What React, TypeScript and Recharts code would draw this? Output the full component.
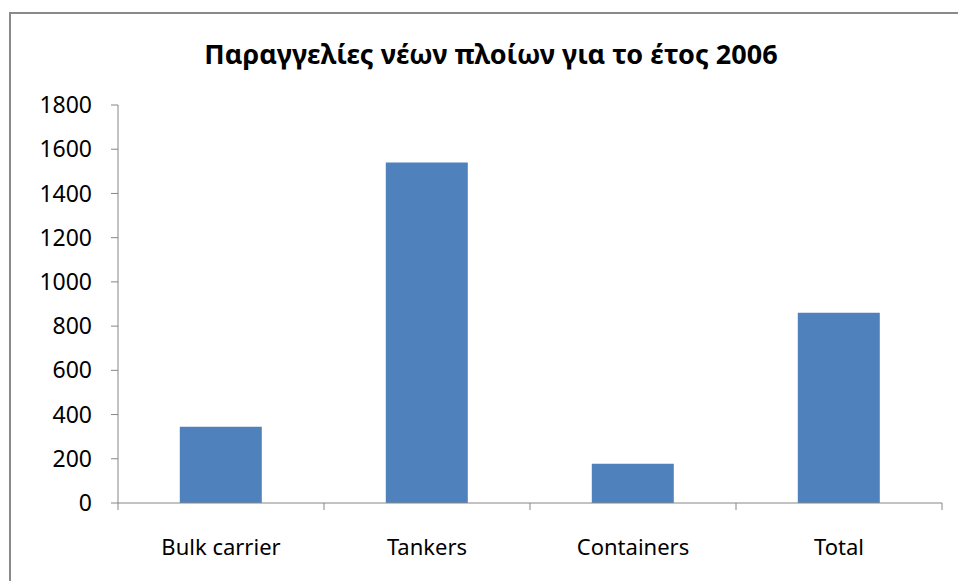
import { BarChart, Bar, XAxis, YAxis } from 'recharts';

const categories = ['Bulk carrier', 'Tankers', 'Containers', 'Total'];
const orders = [345, 1540, 177, 860];
const yTicks = [0, 200, 400, 600, 800, 1000, 1200, 1400, 1600, 1800];

const chartData = categories.map((name, i) => ({ name, orders: orders[i] }));

const W = 958;
const H = 581;
const MARGIN = { top: 105, right: 16, bottom: 48, left: 0 };
const Y_AXIS_W = 118;
const BAND = (W - MARGIN.left - MARGIN.right - Y_AXIS_W) / categories.length;
const AXIS_COLOR = '#868686';
const FONT = '"Noto Sans", sans-serif';

// Excel draws the category ticks on the boundaries, not under the bars
const CategoryTick = ({ x, y, payload, index }: any) => (
  <g>
    {index === 0 && (
      <line x1={x - BAND / 2} y1={y} x2={x - BAND / 2} y2={y + 7} stroke={AXIS_COLOR} />
    )}
    <line x1={x + BAND / 2} y1={y} x2={x + BAND / 2} y2={y + 7} stroke={AXIS_COLOR} />
    <text x={x} y={y + 52} textAnchor="middle" fill="#000" fontSize={22} fontFamily={FONT}>
      {payload.value}
    </text>
  </g>
);

export default function App() {
  return (
    <div style={{ position: 'absolute', left: 0, top: 0, width: W, height: H, overflow: 'hidden', background: '#fff' }}>
      <div
        style={{
          position: 'absolute',
          left: 9,
          top: 12,
          width: W + 20,
          height: H + 20,
          border: '2px solid #8a8a8a',
          boxSizing: 'border-box',
        }}
      />
      <div
        style={{
          position: 'absolute',
          left: 0,
          top: 35,
          width: 982,
          textAlign: 'center',
          fontFamily: FONT,
          fontWeight: 700,
          fontSize: 27,
          color: '#000',
        }}
      >
        Παραγγελίες νέων πλοίων για το έτος 2006
      </div>
      <div style={{ position: 'absolute', left: 0, top: 0 }}>
        <BarChart width={W} height={H} data={chartData} margin={MARGIN} barCategoryGap="30%">
          <XAxis
            dataKey="name"
            stroke={AXIS_COLOR}
            tickLine={false}
            tickSize={0}
            tickMargin={0}
            height={30}
            interval={0}
            tick={<CategoryTick />}
          />
          <YAxis
            domain={[0, 1800]}
            ticks={yTicks}
            width={Y_AXIS_W}
            stroke={AXIS_COLOR}
            tickSize={7}
            tickMargin={19}
            interval={0}
            tick={{ fill: '#000', fontSize: 23, fontFamily: FONT }}
          />
          <Bar dataKey="orders" fill="#4F81BD" isAnimationActive={false} />
        </BarChart>
      </div>
    </div>
  );
}
